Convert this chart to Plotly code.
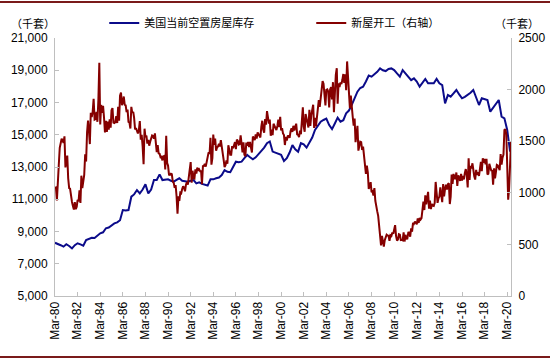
import pandas as pd
import plotly.graph_objects as go

# ---------------- data ----------------
# 美国当前空置房屋库存 (千套), quarterly (Mar, Jun, Sep, Dec), 1980 - 2020
vacant_by_year = {
    1980: [8300, 8200, 8150, 8060],
    1981: [8210, 8100, 7950, 8150],
    1982: [8270, 8200, 8120, 8470],
    1983: [8550, 8615, 8600, 8750],
    1984: [8890, 8950, 9200, 9250],
    1985: [9400, 9500, 9570, 9700],
    1986: [10330, 10300, 10330, 11160],
    1987: [11300, 11570, 11365, 11600],
    1988: [11925, 11365, 11600, 12190],
    1989: [12190, 12545, 12190, 12200],
    1990: [12235, 12150, 12090, 12200],
    1991: [12300, 12150, 12100, 12090],
    1992: [12150, 12190, 11985, 12050],
    1993: [11950, 11880, 11850, 12235],
    1994: [12235, 12300, 12350, 12500],
    1995: [12810, 12700, 12680, 13000],
    1996: [13330, 13300, 13330, 13550],
    1997: [13745, 13600, 13475, 13600],
    1998: [13800, 14050, 14200, 14475],
    1999: [14580, 13955, 13900, 13850],
    2000: [13750, 13370, 13550, 13900],
    2001: [14360, 14100, 13950, 14475],
    2002: [14400, 14200, 14500, 14830],
    2003: [15300, 15600, 15810, 15915],
    2004: [16000, 15600, 15350, 15700],
    2005: [16060, 15810, 15900, 16330],
    2006: [16500, 16850, 17300, 17670],
    2007: [17900, 17980, 18300, 18670],
    2008: [18600, 18750, 18900, 19115],
    2009: [19000, 18950, 19080, 19115],
    2010: [19010, 18800, 18600, 19010],
    2011: [18805, 18600, 18390, 18500],
    2012: [18300, 17980, 18200, 18460],
    2013: [18190, 18190, 18190, 18460],
    2014: [18190, 18080, 16950, 17470],
    2015: [17360, 17570, 17775, 17500],
    2016: [17260, 17350, 17470, 17600],
    2017: [17775, 17300, 16845, 17260],
    2018: [17200, 17155, 16430, 16700],
    2019: [16950, 17155, 16120, 16020],
    2020: [15300, 13950],
}

# 新屋开工 (千套, 右轴), monthly; 1980 starts in March, 2020 ends in July
starts_by_year = {
    1980: [1047, 1051, 927, 1196, 1269, 1436, 1471, 1523, 1510, 1482],
    1981: [1547, 1246, 1306, 1360, 1140, 1045, 1041, 940, 911, 873, 837, 910],
    1982: [843, 866, 931, 917, 1025, 902, 1166, 1046, 1144, 1173, 1372, 1303],
    1983: [1586, 1699, 1606, 1472, 1776, 1733, 1785, 1910, 1710, 1715, 1785, 1688],
    1984: [1897, 2260, 1663, 1851, 1774, 1843, 1732, 1586, 1698, 1590, 1689, 1612],
    1985: [1711, 1632, 1800, 1821, 1680, 1676, 1684, 1743, 1676, 1834, 1698, 1942],
    1986: [1972, 1848, 1876, 1933, 1854, 1847, 1782, 1807, 1687, 1681, 1623, 1833],
    1987: [1774, 1784, 1726, 1614, 1628, 1594, 1575, 1605, 1695, 1515, 1561, 1449],
    1988: [1278, 1621, 1540, 1555, 1477, 1512, 1457, 1495, 1521, 1555, 1550, 1525],
    1989: [1575, 1489, 1395, 1461, 1383, 1378, 1346, 1350, 1314, 1353, 1358, 1227],
    1990: [1552, 1289, 1264, 1176, 1174, 1184, 1180, 1109, 1096, 1048, 1075, 969],
    1991: [798, 965, 921, 1001, 996, 1036, 1063, 1049, 1015, 1079, 1103, 1079],
    1992: [1176, 1250, 1297, 1099, 1214, 1145, 1139, 1226, 1186, 1244, 1214, 1227],
    1993: [1210, 1210, 1083, 1258, 1260, 1280, 1254, 1300, 1343, 1392, 1376, 1533],
    1994: [1272, 1337, 1564, 1465, 1526, 1409, 1439, 1450, 1474, 1450, 1511, 1455],
    1995: [1407, 1316, 1249, 1267, 1314, 1281, 1461, 1416, 1369, 1369, 1452, 1431],
    1996: [1467, 1491, 1424, 1516, 1504, 1467, 1472, 1557, 1475, 1392, 1489, 1370],
    1997: [1355, 1486, 1457, 1492, 1442, 1494, 1437, 1390, 1546, 1520, 1510, 1566],
    1998: [1525, 1584, 1567, 1540, 1536, 1641, 1698, 1614, 1582, 1715, 1660, 1792],
    1999: [1748, 1670, 1710, 1553, 1611, 1559, 1669, 1648, 1635, 1608, 1648, 1708],
    2000: [1636, 1737, 1604, 1626, 1575, 1559, 1463, 1541, 1507, 1549, 1551, 1532],
    2001: [1600, 1625, 1590, 1649, 1605, 1636, 1670, 1567, 1562, 1540, 1602, 1568],
    2002: [1698, 1829, 1642, 1592, 1764, 1717, 1655, 1633, 1804, 1648, 1753, 1788],
    2003: [1853, 1629, 1726, 1643, 1751, 1867, 1897, 1833, 1939, 1967, 2083, 2057],
    2004: [1911, 1846, 1998, 2003, 1981, 1828, 2002, 2024, 1905, 2072, 1782, 2042],
    2005: [2144, 2207, 1864, 2061, 2025, 2068, 2054, 2095, 2151, 2065, 2147, 1994],
    2006: [2273, 2119, 1969, 1821, 1942, 1802, 1737, 1650, 1720, 1491, 1570, 1649],
    2007: [1409, 1480, 1495, 1490, 1415, 1448, 1354, 1330, 1183, 1264, 1197, 1037],
    2008: [1084, 1103, 1005, 1013, 973, 1046, 923, 844, 820, 777, 652, 560],
    2009: [490, 582, 505, 478, 540, 585, 594, 586, 585, 534, 588, 581],
    2010: [614, 604, 636, 687, 583, 536, 546, 599, 594, 543, 545, 539],
    2011: [617, 528, 593, 555, 556, 615, 617, 574, 656, 623, 708, 699],
    2012: [720, 705, 695, 753, 708, 757, 740, 754, 847, 915, 833, 976],
    2013: [888, 962, 1010, 847, 925, 842, 891, 876, 872, 902, 1105, 1003],
    2014: [902, 947, 962, 1052, 985, 909, 1085, 965, 1040, 1078, 1032, 1083],
    2015: [1093, 891, 962, 1178, 1087, 1183, 1150, 1132, 1197, 1067, 1170, 1140],
    2016: [1116, 1184, 1120, 1163, 1130, 1193, 1230, 1171, 1052, 1335, 1125, 1261],
    2017: [1236, 1286, 1197, 1161, 1128, 1222, 1172, 1200, 1163, 1261, 1299, 1209],
    2018: [1334, 1290, 1327, 1276, 1329, 1177, 1184, 1280, 1228, 1217, 1214, 1078],
    2019: [1237, 1139, 1199, 1270, 1265, 1247, 1219, 1375, 1274, 1340, 1371, 1608],
    2020: [1617, 1567, 1276, 934, 1038, 1265, 1492],
}

series_names = ["美国当前空置房屋库存", "新屋开工（右轴）"]
unit_label = "（千套）"
x_start, x_end = "1980-03-01", "2020-07-01"

# ---------------- build series ----------------
vac_x, vac_y = [], []
for yr, vals in vacant_by_year.items():
    for i, v in enumerate(vals):
        vac_x.append(pd.Timestamp(year=yr, month=3 + 3 * i, day=1))
        vac_y.append(v)

st_x, st_y = [], []
for yr, vals in starts_by_year.items():
    m0 = 3 if yr == 1980 else 1
    for i, v in enumerate(vals):
        st_x.append(pd.Timestamp(year=yr, month=m0 + i, day=1))
        st_y.append(v)

BLUE = "#0B0B8A"
RED = "#850000"
AXIS = "#BFBFBF"
FONT = "Arial, Liberation Sans, sans-serif"
CJK = "Noto Sans CJK SC"

fig = go.Figure()
fig.add_trace(go.Scatter(x=vac_x, y=vac_y, mode="lines", name=series_names[0],
                         line=dict(color=BLUE, width=2)))
fig.add_trace(go.Scatter(x=st_x, y=st_y, mode="lines", name=series_names[1],
                         line=dict(color=RED, width=2), yaxis="y2"))

fig.update_layout(
    width=550, height=360,
    margin=dict(l=55, r=39, t=38, b=64, autoexpand=False),
    paper_bgcolor="white", plot_bgcolor="white",
    font=dict(family=FONT, size=12, color="black"),
    showlegend=True,
    legend=dict(orientation="h", x=0.108, y=1.058, xanchor="left", yanchor="middle",
                font=dict(family=CJK, size=11, color="black"),
                itemwidth=30, entrywidth=162, entrywidthmode="pixels",
                bgcolor="rgba(0,0,0,0)"),
    xaxis=dict(type="date", range=[x_start, x_end], tick0="1980-03-01", dtick="M24",
               tickformat="%b-%y", tickangle=-90, showgrid=False, zeroline=False,
               showline=True, linecolor=AXIS, linewidth=1,
               ticks="inside", ticklen=4, tickcolor=AXIS,
               tickfont=dict(family=FONT, size=12, color="black")),
    yaxis=dict(range=[5000, 21000], tick0=5000, dtick=2000, tickformat=",d",
               showgrid=False, zeroline=False, showline=True, linecolor=AXIS,
               linewidth=1, ticks="inside", ticklen=4, tickcolor=AXIS,
               ticklabelstandoff=4,
               tickfont=dict(family=FONT, size=12, color="black")),
    yaxis2=dict(range=[0, 2500], tick0=0, dtick=500, overlaying="y", side="right",
                showgrid=False, zeroline=False, showline=True, linecolor=AXIS,
                linewidth=1, ticks="inside", ticklen=4, tickcolor=AXIS,
                ticklabelstandoff=4,
                tickfont=dict(family=FONT, size=12, color="black")),
)

fig.add_annotation(text=unit_label, xref="paper", yref="paper", x=-0.048, y=1.058,
                   xanchor="center", yanchor="middle", showarrow=False,
                   font=dict(family=CJK, size=11, color="black"))
fig.add_annotation(text=unit_label, xref="paper", yref="paper", x=1.013, y=1.058,
                   xanchor="center", yanchor="middle", showarrow=False,
                   font=dict(family=CJK, size=11, color="black"))

# decorative dark red rules at top and bottom of the picture
for yy in (1.1395, -0.236):
    fig.add_shape(type="line", xref="paper", yref="paper", x0=-0.125, x1=1.09,
                  y0=yy, y1=yy, line=dict(color="#7A1A1A", width=2))

# the page's default 8px body margin would shift the 550x360 figure; remove it
fig.write_html("out.html", config={"displayModeBar": False},
               post_script="document.body.style.margin='0px';")
